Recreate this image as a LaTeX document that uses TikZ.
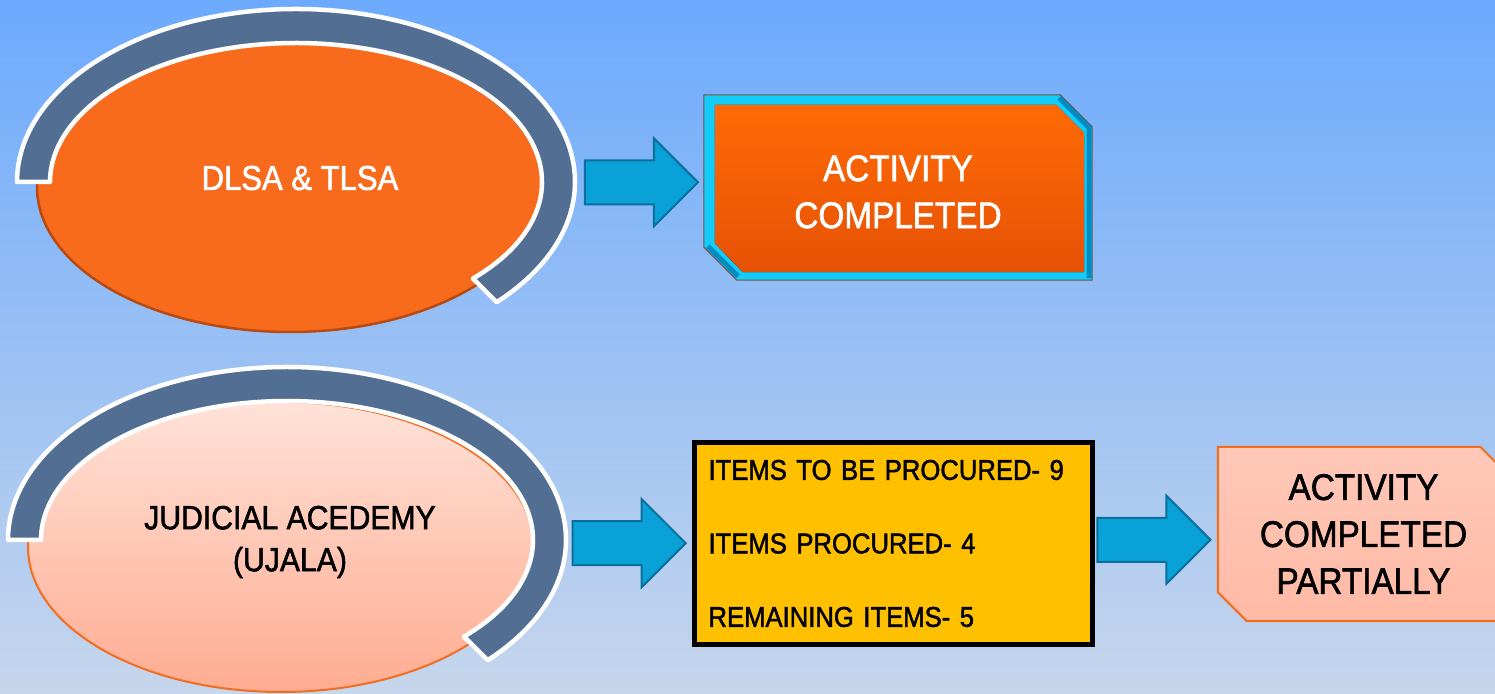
\documentclass[tikz,border=0pt]{standalone}
\usepackage{fontspec}
\setmainfont{Liberation Sans}[FakeStretch=0.9,FakeBold=1.6]
\usetikzlibrary{shapes.geometric,shapes.arrows,backgrounds,calc}
\definecolor{skytop}{RGB}{108,170,253}
\definecolor{skymid}{RGB}{146,196,250}
\definecolor{skybot}{RGB}{198,214,236}
\definecolor{ringblue}{RGB}{82,111,147}
\definecolor{dlsaorange}{RGB}{249,107,28}
\definecolor{dlsaedge}{RGB}{184,74,16}
\definecolor{peachtop}{RGB}{255,226,216}
\definecolor{peachbot}{RGB}{255,172,145}
\definecolor{peachedge}{RGB}{243,109,33}
\definecolor{arrowfill}{RGB}{10,161,216}
\definecolor{arrowedge}{RGB}{8,112,154}
\definecolor{framecyan}{RGB}{20,204,250}
\definecolor{framedark}{RGB}{0,140,195}
\definecolor{framebrown}{RGB}{122,78,62}
\definecolor{donetop}{RGB}{255,106,5}
\definecolor{donebot}{RGB}{230,82,5}
\definecolor{itemsyellow}{RGB}{255,192,0}
\definecolor{parttop}{RGB}{255,200,185}
\definecolor{partmid}{RGB}{255,226,216}
\definecolor{partbot}{RGB}{255,186,165}
\tikzset{
	oval/.style={ellipse,minimum width=506pt,minimum height=290pt,inner sep=0},
	ring/.style={fill=ringblue,draw=white,line width=4.5pt,line join=round},
	ovaltext/.style={align=center,font=\fontsize{33.5}{42}\selectfont},
	boxtext/.style={align=center,font=\fontsize{37}{47}\selectfont,inner sep=0},
	blockarrow/.style={single arrow,fill=arrowfill,draw=arrowedge,line width=2pt,minimum height=113pt,inner xsep=0,inner ysep=21pt,single arrow head extend=22pt}
}
\begin{document}
\begin{tikzpicture}[x=1pt,y=1pt]
	\useasboundingbox (0,0) rectangle (1495,693);
	\begin{scope}[on background layer]
		\shade[top color=skytop,middle color=skymid,bottom color=skybot] (0,0) rectangle (1495,693);
	\end{scope}
	% upper row
	\node[oval,fill=dlsaorange,draw=dlsaedge,line width=2.5pt] (dlsa) at (290,506) {};
	\coordinate (dlsac) at ([shift={(6,5)}]dlsa.center);
	\draw[ring] ($(dlsac)+(-279,0)$) arc[start angle=180,end angle=-44,x radius=279pt,y radius=173pt]
		-- ($(dlsac)+(-44:246pt and 139pt)$) arc[start angle=-44,end angle=180,x radius=246pt,y radius=139pt] -- cycle;
	\node[ovaltext,text=white,font=\fontsize{34.5}{42}\selectfont] (dlsatext) at ([xshift=10,yshift=9]dlsa.center) {DLSA \& TLSA};
	\node[boxtext,text=white,minimum width=388pt,minimum height=185pt] (done) at (898,505.5) {\rule{0pt}{34.5pt}ACTIVITY\\COMPLETED};
	% lower row
	\node[oval,top color=peachtop,bottom color=peachbot,draw=peachedge,line width=2pt] (ujala) at (281,146) {};
	\coordinate (ujalac) at ([shift={(6,7)}]ujala.center);
	\draw[ring] ($(ujalac)+(-279,0)$) arc[start angle=180,end angle=-44,x radius=279pt,y radius=173pt]
		-- ($(ujalac)+(-44:246pt and 139pt)$) arc[start angle=-44,end angle=180,x radius=246pt,y radius=139pt] -- cycle;
	\node[ovaltext] (ujalatext) at ([xshift=9,yshift=5]ujala.center) {JUDICIAL ACEDEMY\\(UJALA)};
	\node[draw=black,line width=5pt,fill=itemsyellow,minimum width=398pt,minimum height=202pt,text width=370pt,inner xsep=14pt,align=left,font=\fontsize{28.5}{73.5}\selectfont] (items) at (893.5,149.5) {ITEMS TO BE PROCURED- 9\\ITEMS PROCURED- 4\\REMAINING ITEMS- 5};
	\node[boxtext,minimum width=291pt,minimum height=174pt] (part) at (1363.5,159) {ACTIVITY\\COMPLETED\\PARTIALLY};
	% box frames
	\begin{scope}[on background layer]
		\draw[fill=framecyan,draw=framebrown,line width=1pt] (done.north west) -- ([xshift=-32]done.north east) -- ([yshift=-32]done.north east)
			-- (done.south east) -- ([xshift=33]done.south west) -- ([yshift=33]done.south west) -- cycle;
		\draw[framedark,line width=5pt] ([xshift=-33,yshift=-3]done.north east) -- ([xshift=-3,yshift=-33]done.north east) -- ([xshift=-3,yshift=2]done.south east);
		\draw[framedark,line width=5pt] ([xshift=4,yshift=34]done.south west) -- ([xshift=34,yshift=4]done.south west);
		\fill[top color=donetop,bottom color=donebot] ([xshift=11,yshift=-10]done.north west) -- ([xshift=-36,yshift=-10]done.north east) -- ([xshift=-8,yshift=-38]done.north east)
			-- ([xshift=-8,yshift=8]done.south east) -- ([xshift=39,yshift=8]done.south west) -- ([xshift=11,yshift=37]done.south west) -- cycle;
		\draw[top color=parttop,middle color=partmid,bottom color=partbot,draw=peachedge,line width=2pt] (part.north west) -- ([xshift=-29]part.north east) -- ([yshift=-29]part.north east)
			-- (part.south east) -- ([xshift=29]part.south west) -- ([yshift=29]part.south west) -- cycle;
	\end{scope}
	% arrows
	\path (dlsa.east) -- node[blockarrow,pos=0.54,yshift=5] (go1) {} (done.west);
	\path (ujala.east) -- node[blockarrow,pos=0.53,yshift=2] (go2) {} (items.west);
	\path (items.east) -- node[blockarrow,pos=0.39] (go3) {} (part.west);
\end{tikzpicture}
\end{document}
